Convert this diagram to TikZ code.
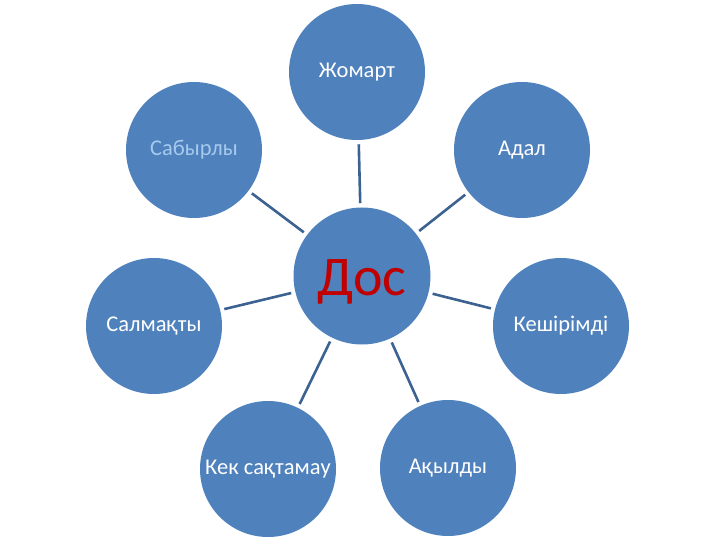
\documentclass[tikz,border=0pt]{standalone}
\usepackage{fontspec}
\setmainfont{Carlito}
\usepackage{tikz}
\usetikzlibrary{positioning}
\definecolor{ballblue}{HTML}{4F81BD}
\definecolor{spokeblue}{HTML}{3C6292}
\definecolor{dosred}{HTML}{C00000}
\definecolor{paleblue}{HTML}{A6C9EE}

\begin{document}
\begin{tikzpicture}[x=1pt,y=-1pt,-,line width=2.6pt,shorten <=3pt,shorten >=3pt,
	ballnode/.style={circle,fill=ballblue,draw=none,minimum size=136pt,inner sep=0pt,text=white,font=\fontsize{22.5}{26}\selectfont},
	hubnode/.style={ballnode,minimum size=137pt,text=dosred,text height=38pt,text depth=0pt,font=\fontsize{56}{60}\selectfont}]
	
	\useasboundingbox (0,0) rectangle (720,540);
	
	\node [hubnode] (0) at (362, 276) {Дос};
	\node [ballnode] (1) at (357, 72) {Жомарт};
	\node [ballnode] (2) at (522, 150) {Адал};
	\node [ballnode] (3) at (561, 326) {Кешірімді};
	\node [ballnode] (4) at (448, 468) {Ақылды};
	\node [ballnode] (5) at (268, 469) {Кек сақтамау};
	\node [ballnode] (6) at (154, 326) {Салмақты};
	\node [ballnode,text=paleblue] (7) at (194, 150) {Сабырлы};
	
	\draw [spokeblue] (0) to (1);
	\draw [spokeblue] (0) to (2);
	\draw [spokeblue] (0) to (3);
	\draw [spokeblue] (0) to (4);
	\draw [spokeblue] (0) to (5);
	\draw [spokeblue] (0) to (6);
	\draw [spokeblue] (0) to (7);

\end{tikzpicture}
\end{document}
